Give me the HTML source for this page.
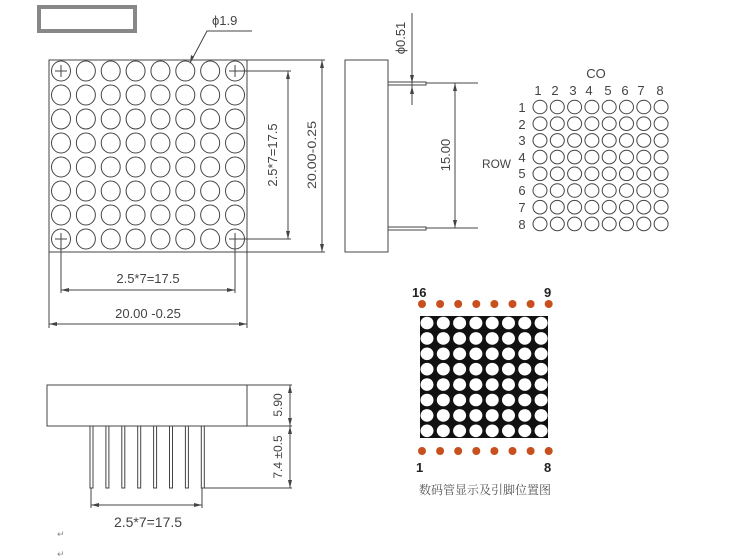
<!DOCTYPE html>
<html><head><meta charset="utf-8"><style>
html,body{margin:0;padding:0;background:#fff;width:750px;height:560px;overflow:hidden}
svg{display:block}
text{font-family:"Liberation Sans","Noto Sans CJK SC",sans-serif;fill:#444}
</style></head><body>
<svg id="s" width="750" height="560" viewBox="0 0 750 560" xmlns="http://www.w3.org/2000/svg">
<g id="g" stroke="#444" stroke-width="1" fill="none">
<rect x="39" y="7" width="96" height="24" stroke="#888" stroke-width="4"/>
<rect x="49" y="60" width="198" height="192"/>
<polyline points="190,63 207,31 252,31"/>
<line x1="235" y1="71" x2="291" y2="71"/><line x1="235" y1="239" x2="291" y2="239"/>
<line x1="288" y1="71" x2="288" y2="239"/>
<line x1="247" y1="60" x2="325" y2="60"/><line x1="247" y1="252" x2="325" y2="252"/>
<line x1="322" y1="60" x2="322" y2="252"/>
<line x1="61" y1="239" x2="61" y2="293"/><line x1="235" y1="239" x2="235" y2="293"/>
<line x1="61" y1="290" x2="235" y2="290"/>
<line x1="49" y1="252" x2="49" y2="328"/><line x1="247" y1="252" x2="247" y2="328"/>
<line x1="49" y1="324" x2="247" y2="324"/>
<rect x="345" y="60" width="43" height="192"/>
<rect x="388" y="82" width="38" height="3"/><rect x="388" y="227" width="38" height="3"/>
<line x1="426" y1="83" x2="478" y2="83"/><line x1="426" y1="228" x2="478" y2="228"/>
<line x1="455" y1="83" x2="455" y2="228"/>
<line x1="412" y1="13" x2="412" y2="105"/>
<rect x="47" y="385" width="200" height="41"/>
<line x1="247" y1="385" x2="292" y2="385"/><line x1="247" y1="426" x2="292" y2="426"/>
<line x1="204" y1="488" x2="292" y2="488"/>
<line x1="290" y1="385" x2="290" y2="488"/>
<line x1="91" y1="488" x2="91" y2="508"/><line x1="202" y1="488" x2="202" y2="508"/>
<line x1="91" y1="505" x2="202" y2="505"/>
<rect x="420" y="316" width="128" height="122" fill="#111" stroke="none"/>
</g>
<g fill="#444" stroke="none">
<path d="M61 290l8-2v4zM235 290l-8-2v4zM49 324l8-2v4zM247 324l-8-2v4zM288 71l-2 8h4zM288 239l-2-8h4zM322 60l-2 8h4zM322 252l-2-8h4zM455 83l-2 8h4zM455 228l-2-8h4zM412 83l-2-8h4zM412 86l-2 8h4zM91 505l8-2v4zM202 505l-8-2v4zM290 385l-2 8h4zM290 426l-2-8h4zM290 426l-2 8h4zM290 488l-2-8h4zM190 63l1-8 3 2z"/>
</g>
<text x="212" y="25" font-size="13">ϕ1.9</text>
<text transform="translate(277,155) rotate(-90)" font-size="13" text-anchor="middle">2.5*7=17.5</text>
<text transform="translate(316,155) rotate(-90)" font-size="12" text-anchor="middle" textLength="68" lengthAdjust="spacingAndGlyphs">20.00-0.25</text>
<text x="148" y="283" font-size="13" text-anchor="middle">2.5*7=17.5</text>
<text x="148" y="318" font-size="13" text-anchor="middle">20.00 -0.25</text>
<text transform="translate(405,38) rotate(-90)" font-size="13" text-anchor="middle">ϕ0.51</text>
<text transform="translate(450,155) rotate(-90)" font-size="13" text-anchor="middle">15.00</text>
<text x="596" y="78" font-size="13" text-anchor="middle">CO</text>
<text x="482" y="168" font-size="12" textLength="29" lengthAdjust="spacingAndGlyphs">ROW</text>
<g font-size="13" text-anchor="middle">
<text x="538" y="95">1</text><text x="555" y="95">2</text><text x="573" y="95">3</text><text x="589" y="95">4</text><text x="608" y="95">5</text><text x="625" y="95">6</text><text x="641" y="95">7</text><text x="660" y="95">8</text>
<text x="522" y="112">1</text><text x="522" y="129">2</text><text x="522" y="145">3</text><text x="522" y="162">4</text><text x="522" y="178">5</text><text x="522" y="195">6</text><text x="522" y="212">7</text><text x="522" y="229">8</text>
</g>
<text transform="translate(282,405) rotate(-90)" font-size="12" text-anchor="middle">5.90</text>
<text transform="translate(282,457) rotate(-90)" font-size="12" text-anchor="middle">7.4 ±0.5</text>
<text x="148" y="527" font-size="14" text-anchor="middle">2.5*7=17.5</text>
<text x="57" y="537" font-size="9" style="fill:#888">↵</text>
<text x="57" y="557" font-size="9" style="fill:#888">↵</text>
<text x="412" y="297" font-size="13" font-weight="bold" style="fill:#222">16</text>
<text x="544" y="297" font-size="13" font-weight="bold" style="fill:#222">9</text>
<text x="416" y="472" font-size="13" font-weight="bold" style="fill:#222">1</text>
<text x="544" y="472" font-size="13" font-weight="bold" style="fill:#222">8</text>
<text x="485" y="494" font-size="12" text-anchor="middle" style="fill:#555;font-family:'Noto Serif CJK SC','Noto Sans CJK SC',serif">数码管显示及引脚位置图</text>
</svg>
<script>
var s=document.getElementById('g'),N='http://www.w3.org/2000/svg';
function el(t,a){var e=document.createElementNS(N,t);for(var k in a)e.setAttribute(k,a[k]);s.appendChild(e);return e;}
for(var r=0;r<8;r++)for(var c=0;c<8;c++){
 var x=61+c*24.86,y=71+r*24;
 el('ellipse',{cx:x,cy:y,rx:9.5,ry:10});
 if((r==0||r==7)&&(c==0||c==7)){el('line',{x1:x-6,y1:y,x2:x+6,y2:y});el('line',{x1:x,y1:y-6,x2:x,y2:y+6});}
 el('ellipse',{cx:540+c*17.3,cy:107+r*16.7,rx:7,ry:6.8});
 el('ellipse',{cx:427+c*16.3,cy:323+r*15.4,rx:6.5,ry:6.3,fill:'#fff',stroke:'none'});
}
for(var c=0;c<8;c++){
 el('circle',{cx:422+c*18.1,cy:304,r:4,fill:'#c8501e',stroke:'none'});
 el('circle',{cx:422+c*18.1,cy:451,r:4,fill:'#c8501e',stroke:'none'});
 el('rect',{x:90+c*15.9,y:426,width:3,height:62});
}
</script>
</body></html>
